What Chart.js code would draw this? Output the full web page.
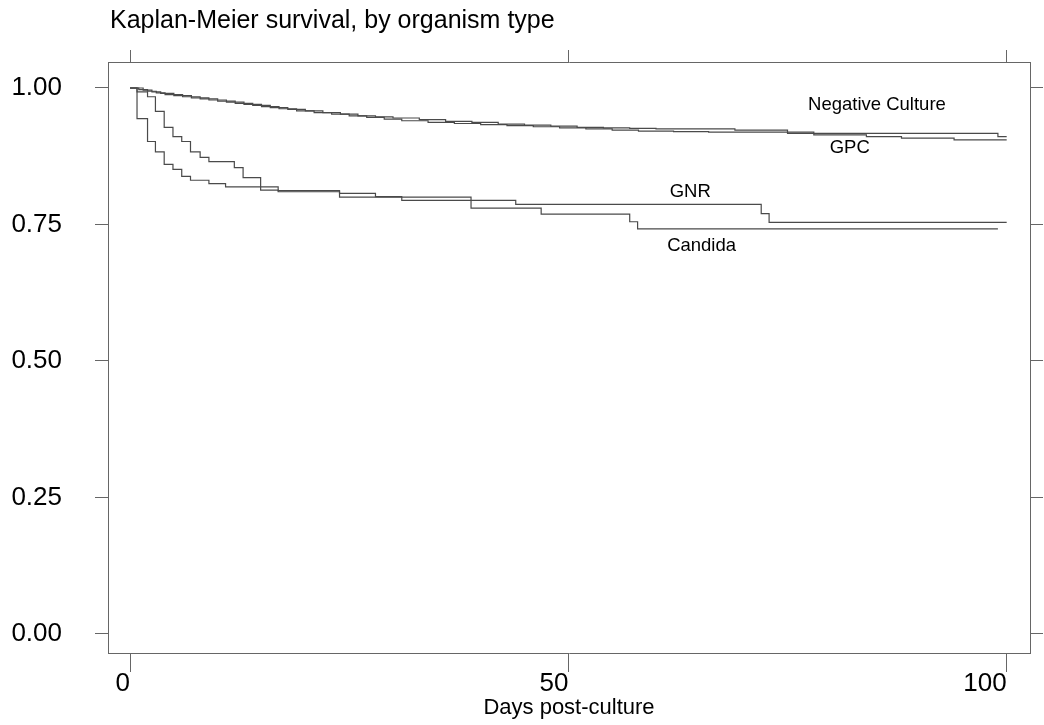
<!DOCTYPE html>
<html>
<head>
<meta charset="utf-8">
<script src="https://cdn.jsdelivr.net/npm/chart.js@4/dist/chart.umd.min.js"></script>
<style>
  html, body { margin: 0; padding: 0; background: #fff; }
  #wrap { width: 1044px; height: 725px; }
</style>
</head>
<body>
<div id="wrap"><canvas id="kmChart" width="1044" height="725"></canvas></div>
<script>
// ========== Data ==========
const chartTitle = "Kaplan-Meier survival, by organism type";
const xTitle = "Days post-culture";
const xTicks = [0, 50, 100];
const yTicks = [0, 0.25, 0.5, 0.75, 1];

const negDays = [0, 1, 2, 3, 4, 6, 8, 10, 12, 14, 16, 18, 20, 22, 24, 26, 28, 30, 33, 36, 39, 42, 45, 48, 51, 54, 57, 60, 69, 75, 99, 100];
const negSurv = [1.0, 0.997, 0.994, 0.991, 0.988, 0.984, 0.980, 0.976, 0.972, 0.968, 0.964, 0.961, 0.958, 0.955, 0.952, 0.949, 0.947, 0.945, 0.942, 0.939, 0.937, 0.934, 0.932, 0.930, 0.928, 0.927, 0.926, 0.925, 0.923, 0.917, 0.911, 0.911];

const gpcDays = [0, 1.5, 2.5, 3.5, 5, 7, 9, 11, 13, 15, 17, 19, 21, 23, 25, 27, 29, 31, 34, 37, 40, 43, 46, 49, 52, 55, 58, 62, 66, 78, 84, 88, 94, 100];
const gpcSurv = [1.0, 0.996, 0.993, 0.990, 0.986, 0.982, 0.978, 0.974, 0.970, 0.966, 0.962, 0.958, 0.955, 0.952, 0.949, 0.946, 0.943, 0.940, 0.937, 0.935, 0.933, 0.931, 0.929, 0.927, 0.925, 0.923, 0.921, 0.920, 0.919, 0.914, 0.911, 0.908, 0.905, 0.905];

const gnrDays = [0, 0.8, 2.0, 2.9, 3.9, 4.9, 5.9, 6.9, 8.0, 9.0, 11.9, 12.9, 14.9, 16.9, 23.9, 28.0, 31.0, 44.0, 72.0, 72.9, 100];
const gnrSurv = [1.0, 0.993, 0.984, 0.957, 0.928, 0.911, 0.902, 0.883, 0.873, 0.865, 0.854, 0.836, 0.813, 0.810, 0.807, 0.801, 0.794, 0.787, 0.770, 0.754, 0.754];

const candDays = [0, 0.8, 2.0, 2.9, 3.9, 4.9, 5.9, 6.9, 9.0, 10.9, 16.9, 23.9, 38.9, 46.9, 57.0, 57.9, 99];
const candSurv = [1.0, 0.944, 0.902, 0.883, 0.860, 0.851, 0.838, 0.831, 0.825, 0.819, 0.812, 0.800, 0.780, 0.769, 0.755, 0.742, 0.742];

// curve labels placed in data units
const labelNames = ["Negative Culture", "GPC", "GNR", "Candida"];
const labelDays = [85.2, 82.1, 63.9, 65.2];
const labelSurv = [0.969, 0.891, 0.810, 0.711];

// ========== Helpers ==========
const FONT = "'Liberation Sans', Arial, Helvetica, sans-serif";
const LINE = "#4a4a4a";
const AXIS = "#666666";

function zip(xs, ys) {
  return xs.map((x, i) => ({ x, y: ys[i] }));
}
function series(label, xs, ys) {
  return {
    label,
    data: zip(xs, ys),
    stepped: true,
    borderColor: LINE,
    borderWidth: 1.2,
    pointRadius: 0,
    fill: false,
  };
}
const fixTicks = (vals) => (scale) => { scale.ticks = vals.map((v) => ({ value: v })); };

// ========== Plugin: title + curve labels ==========
const textPlugin = {
  id: "kmText",
  afterDatasetsDraw(chart) {
    const { ctx, chartArea, scales } = chart;
    ctx.save();
    ctx.fillStyle = "#000";
    ctx.font = `25px ${FONT}`;
    ctx.textAlign = "left";
    ctx.textBaseline = "alphabetic";
    ctx.fillText(chartTitle, chartArea.left + 2, 28);

    ctx.font = `18.5px ${FONT}`;
    ctx.textAlign = "center";
    ctx.textBaseline = "middle";
    labelNames.forEach((name, i) => {
      ctx.fillText(name, scales.x.getPixelForValue(labelDays[i]), scales.y.getPixelForValue(labelSurv[i]));
    });
    ctx.restore();
  },
};

// ========== Chart ==========
const gridOpts = (len) => ({ drawOnChartArea: false, drawTicks: true, tickLength: len, color: AXIS, lineWidth: 1 });
const borderOpts = { display: true, color: AXIS, width: 1 };

new Chart(document.getElementById("kmChart").getContext("2d"), {
  type: "line",
  data: {
    datasets: [
      series("Negative Culture", negDays, negSurv),
      series("GPC", gpcDays, gpcSurv),
      series("GNR", gnrDays, gnrSurv),
      series("Candida", candDays, candSurv),
    ],
  },
  options: {
    responsive: false,
    animation: false,
    layout: { padding: 0 },
    plugins: { legend: { display: false }, tooltip: { enabled: false }, title: { display: false } },
    scales: {
      x: {
        type: "linear", position: "bottom", min: -2.51, max: 102.66,
        afterBuildTicks: fixTicks(xTicks),
        afterFit: (s) => { s.height = 72; },
        grid: gridOpts(19), border: borderOpts,
        ticks: { align: "end", padding: -4, color: "#000", font: { family: FONT, size: 26 } },
        title: { display: true, text: xTitle, color: "#000", font: { family: FONT, size: 22 }, padding: { top: 0, bottom: 4 } },
      },
      x2: {
        type: "linear", position: "top", min: -2.51, max: 102.66,
        afterBuildTicks: fixTicks(xTicks),
        afterFit: (s) => { s.height = 62; },
        grid: gridOpts(12), border: borderOpts,
        ticks: { display: false },
      },
      y: {
        type: "linear", position: "left", min: -0.0348, max: 1.0476,
        afterBuildTicks: fixTicks(yTicks),
        afterFit: (s) => { s.width = 108; },
        grid: gridOpts(13), border: borderOpts,
        ticks: { padding: 33, color: "#000", font: { family: FONT, size: 26 }, callback: (v) => v.toFixed(2) },
      },
      y2: {
        type: "linear", position: "right", min: -0.0348, max: 1.0476,
        afterBuildTicks: fixTicks(yTicks),
        afterFit: (s) => { s.width = 14; },
        grid: gridOpts(13), border: borderOpts,
        ticks: { display: false },
      },
    },
  },
  plugins: [textPlugin],
});
</script>
</body>
</html>
